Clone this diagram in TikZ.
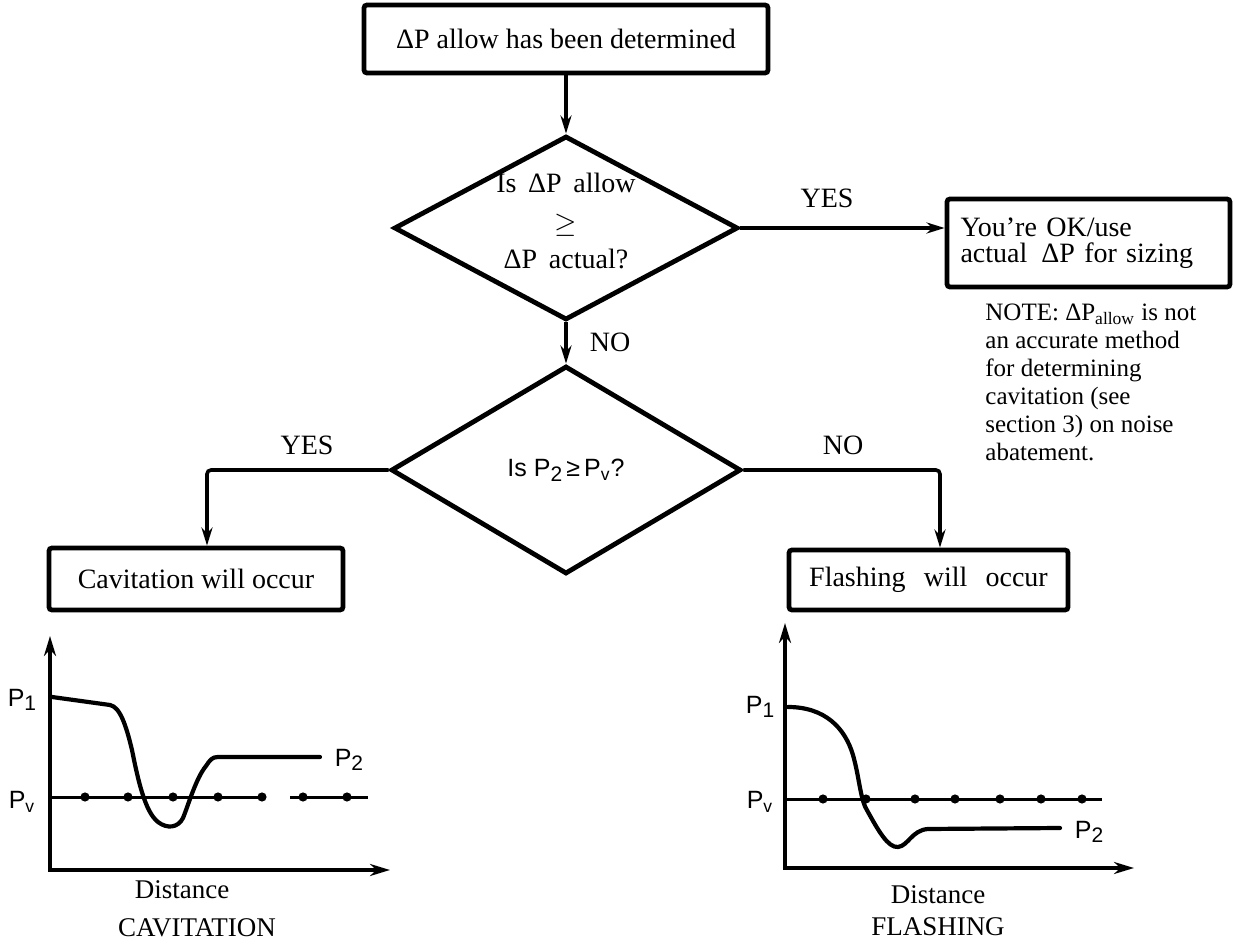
\documentclass[tikz,border=0pt]{standalone}
\usepackage{fontspec}
\setmainfont{Liberation Serif}
\newfontfamily\labsans{Liberation Sans}
\usetikzlibrary{shapes.geometric,arrows.meta,calc}
\newcommand{\sub}[1]{\raisebox{-0.35ex}{\fontsize{10.5}{10.5}\selectfont #1}}
\begin{document}
\begin{tikzpicture}[x=0.5pt,y=-0.5pt,
  box/.style={draw, line width=2.4pt, rounded corners=1.5pt, inner sep=0pt, font=\fontsize{14}{16}\selectfont},
  dec/.style={draw, diamond, line width=2.4pt, inner sep=0pt},
  conn/.style={line width=1.8pt, -{Stealth[length=9pt,width=5.5pt]}},
  lab/.style={inner sep=0pt, font=\fontsize{14}{16}\selectfont},
  notef/.style={inner sep=0pt, font=\fontsize{12.5}{14}\selectfont, align=left},
  sansl/.style={inner sep=0pt, font=\labsans\fontsize{12.5}{13}\selectfont},
  axis/.style={line width=1.7pt, {Stealth[length=10pt,width=6pt]}-{Stealth[length=10pt,width=6pt]}},
  curve/.style={line width=2.1pt, line cap=round, line join=round},
  pvline/.style={line width=1.5pt},
  dotf/.style={fill=black}
]
\useasboundingbox (0,0) rectangle (1233,946);

% flowchart
\node[box, minimum width=202pt, minimum height=34pt] (top) at (566,39) {ΔP allow has been determined};
\node[dec, minimum width=172pt, minimum height=92pt] (d1) at (566,228) {};
\node[lab, font=\fontsize{14}{19}\selectfont, align=center] (d1t) at (566,221) {Is\, ΔP\, allow\\\raisebox{-1pt}{$\geq$}\\ΔP\, actual?};
\node[box, minimum width=141.5pt, minimum height=44pt, align=left, text width=128pt, font=\fontsize{14}{13}\selectfont] (ok) at (1088.5,243) {You’re OK/use\\actual\, ΔP for sizing};
\node[lab] (yes1) at (827,198) {YES};
\node[notef, anchor=north west] (note) at (985,304) {NOTE: ΔP\textsubscript{allow} is not\\an accurate method\\for determining\\cavitation (see\\section 3) on noise\\abatement.};
\node[lab] (no1) at (610,342) {NO};
\node[dec, minimum width=175pt, minimum height=104pt, font=\labsans\fontsize{12.5}{13}\selectfont] (d2) at (566,470) {Is P\sub{2}\,≥\,P\textsubscript{v}?};
\node[box, minimum width=147pt, minimum height=31pt] (cav) at (196,579) {Cavitation will occur};
\node[box, minimum width=139.5pt, minimum height=30pt] (fl) at (928.5,580) {Flashing\hspace{0.4em} will\hspace{0.4em} occur};
\node[lab] (yes2) at (307,445) {YES};
\node[lab] (no2) at (843,445) {NO};

\draw[conn] (top.south) -- (d1.north);
\draw[conn] (d1.east) -- (d1.east -| ok.west);
\draw[conn] (d1.south) -- (d2.north);
\draw[conn, rounded corners=2pt] (d2.west) -| ([xshift=5.5pt]cav.north);
\draw[conn, rounded corners=2pt] (d2.east) -| ([xshift=5.75pt]fl.north);

% cavitation graph
\draw[axis] (50,636) -- (50,870) -- (390,870);
\draw[pvline] (50,797) -- (263,797);
\draw[pvline] (290,797) -- (368,797);
\foreach \x in {85,128,173,218,262,303,347} \fill[dotf] (\x,797) circle[radius=2.3pt];
\draw[curve] (52,697) -- (110,705) .. controls (120,707) and (126,725) .. (132,750)
  .. controls (138,780) and (145,812) .. (158,822) .. controls (167,829) and (178,828) .. (183,818)
  .. controls (188,806) and (196,778) .. (206,766) .. controls (210,760) and (212,757) .. (218,757) -- (320,757);
\node[sansl] (p1a) at (22,700) {P\sub{1}};
\node[sansl] (pva) at (22,802) {P\textsubscript{v}};
\node[sansl] (p2a) at (349,760) {P\sub{2}};
\node[lab, font=\fontsize{13.5}{15}\selectfont] (dista) at (182,890) {Distance};
\node[lab, font=\fontsize{13.5}{15}\selectfont] (capa) at (197,928) {CAVITATION};

% flashing graph
\draw[axis] (785,623) -- (785,868) -- (1134,868);
\draw[pvline] (785,799) -- (1102,799);
\foreach \x in {823,866,915,955,1000,1041,1082} \fill[dotf] (\x,799) circle[radius=2.3pt];
\draw[curve] (788,707) .. controls (825,707) and (845,728) .. (853,755)
  .. controls (860,780) and (860,800) .. (868,812) .. controls (878,830) and (888,848) .. (898,847)
  .. controls (908,846) and (912,830) .. (928,829) -- (1060,828);
\node[sansl] (p1b) at (760,707) {P\sub{1}};
\node[sansl] (pvb) at (760,802) {P\textsubscript{v}};
\node[sansl] (p2b) at (1089,832) {P\sub{2}};
\node[lab, font=\fontsize{13.5}{15}\selectfont] (distb) at (938,895) {Distance};
\node[lab, font=\fontsize{13.5}{15}\selectfont] (capb) at (938,927) {FLASHING};
\end{tikzpicture}
\end{document}
